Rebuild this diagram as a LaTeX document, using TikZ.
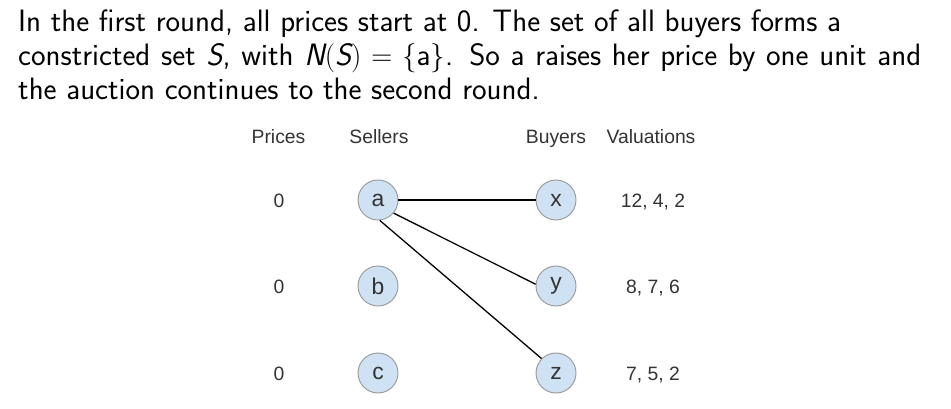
\documentclass[tikz,border=0pt]{standalone}
\usepackage{fontspec}
\newfontfamily\arialfont{Liberation Sans}
\usetikzlibrary{calc}
\definecolor{nodefill}{HTML}{CFE2F3}
\definecolor{nodeline}{HTML}{999999}
\definecolor{labeltext}{HTML}{333333}

\begin{document}
\begin{tikzpicture}[x=0.03cm, y=-0.03cm,
    textline/.style={anchor=base west, inner sep=0pt, font=\sffamily\fontsize{26.4}{29}\selectfont},
    tag/.style={anchor=base, inner sep=0pt, text=labeltext, font=\arialfont\fontsize{16.5}{18}\selectfont},
    vertex/.style={circle, draw=nodeline, fill=nodefill, line width=0.8pt, inner sep=0pt, minimum size=1.2cm, text=labeltext, font=\arialfont\fontsize{19.5}{21}\selectfont},
    edge/.style={draw, line width=1.1pt}]
  \useasboundingbox (0,0) rectangle (951,408);

  % explanation above the graph
  \node[textline] (line1) at (18,31) {In the first round, all prices start at 0. The set of all buyers forms a};
  \node[textline] (line2) at (18,65) {\makebox[27.09cm][s]{constricted set \textit{S}, with $\textit{N}(\textit{S}) = \{\textup{a}\}$. So a raises her price by one unit and}};
  \node[textline] (line3) at (18,99) {the auction continues to the second round.};

  % column heads
  \node[tag] (prices) at (278.5,143) {Prices};
  \node[tag] (sellers) at (379,143) {Sellers};
  \node[tag] (buyers) at (556,143) {Buyers};
  \node[tag] (valuations) at (651,143) {Valuations};

  % sellers and buyers
  \node[vertex] (a) at (378,200) {a};
  \node[vertex] (b) at (378,286) {b};
  \node[vertex] (c) at (378,373) {c};
  \node[vertex] (x) at (556,200) {x};
  \node[vertex] (y) at (556,286) {y};
  \node[vertex] (z) at (556,373) {z};

  % prices and valuations
  \node[tag] (p1) at (279,207) {0};
  \node[tag] (p2) at (279,293) {0};
  \node[tag] (p3) at (279,380) {0};
  \node[tag] (v1) at (653,207) {12, 4, 2};
  \node[tag] (v2) at (653,293) {8, 7, 6};
  \node[tag] (v3) at (653,380) {7, 5, 2};

  \draw[edge] (a) -- (x);
  \draw[edge] (a.-40) -- (y.175);
  \draw[edge] (a.-85) -- (z.135);
\end{tikzpicture}
\end{document}
